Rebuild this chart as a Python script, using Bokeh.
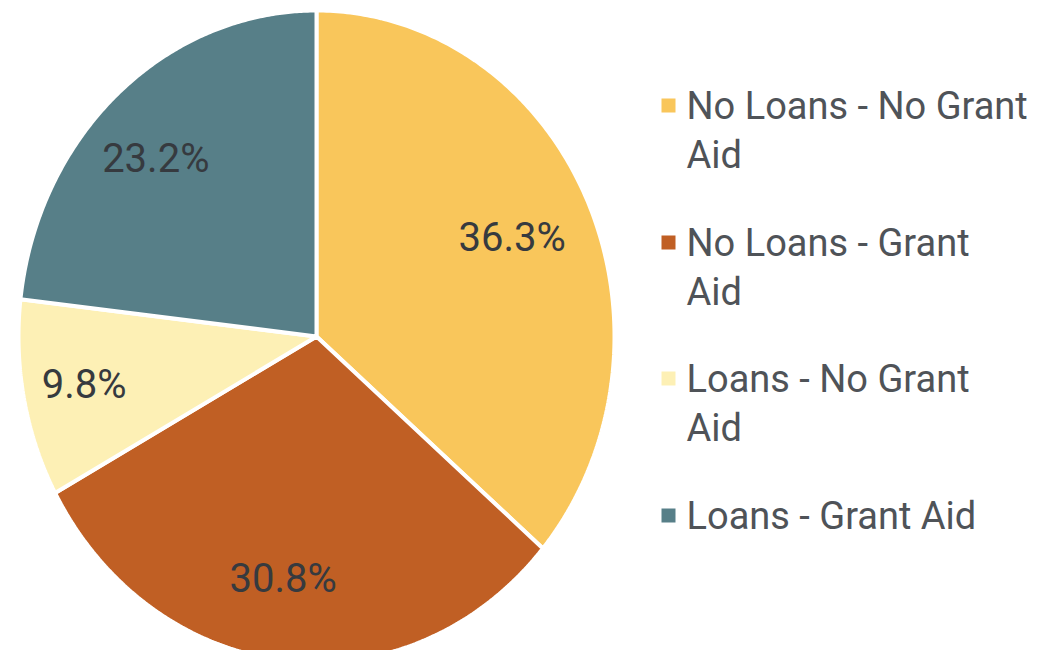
import numpy as np
from bokeh.plotting import figure
from bokeh.models import Range1d
from bokeh.core.properties import value
from bokeh.embed import file_html
from bokeh.resources import INLINE

# ---- data ----
categories = ["No Loans - No Grant Aid", "No Loans - Grant Aid",
              "Loans - No Grant Aid", "Loans - Grant Aid"]
shares = [36.3, 30.8, 9.8, 23.2]
pct_labels = ["36.3%", "30.8%", "9.8%", "23.2%"]
legend_lines = [["No Loans - No Grant", "Aid"],
                ["No Loans - Grant", "Aid"],
                ["Loans - No Grant", "Aid"],
                ["Loans - Grant Aid"]]
colors = ["#F9C65B", "#C05F24", "#FDF0B5", "#577F88"]

# ---- layout (page pixels) ----
W, H = 1039, 650
cx, cy = 316, 336
rx, ry = 298, 326

p = figure(width=W, height=H, output_backend="svg", toolbar_location=None,
           x_range=Range1d(0, W), y_range=Range1d(H, 0),
           min_border=0, outline_line_color=None, background_fill_color="white")
p.axis.visible = False
p.grid.visible = False

vals = np.array(shares, dtype=float)
frac = vals / vals.sum()
cum = np.concatenate([[0], np.cumsum(frac)])
xs, ys, lx, ly = [], [], [], []
for i in range(len(vals)):
    # clockwise from top
    a0 = np.pi / 2 - 2 * np.pi * cum[i]
    a1 = np.pi / 2 - 2 * np.pi * cum[i + 1]
    t = np.linspace(a0, a1, 200)
    xs.append([cx] + list(cx + rx * np.cos(t)))
    ys.append([cy] + list(cy - ry * np.sin(t)))
    am = (a0 + a1) / 2
    lx.append(cx - 10 + 0.76 * rx * np.cos(am))
    ly.append(cy + 2 - 0.74 * ry * np.sin(am))

p.patches(xs=xs, ys=ys, fill_color=colors, line_color="white", line_width=4)

p.text(x=lx, y=ly, text=pct_labels, text_align="center", text_baseline="middle",
       text_font=value("Roboto"), text_font_size="40px", text_color="#363a3f")

# ---- legend ----
item_y = [105, 242, 378, 515]
line_gap = 49
sq_x = 668
tx = 686
p.scatter(x=[sq_x] * 4, y=item_y, marker="square", size=14,
          fill_color=colors, line_color=None)
txt_x, txt_y, txt = [], [], []
for yy, lines in zip(item_y, legend_lines):
    for j, ln in enumerate(lines):
        txt_x.append(tx)
        txt_y.append(yy + j * line_gap)
        txt.append(ln)
p.text(x=txt_x, y=txt_y, text=txt, text_align="left", text_baseline="middle",
       text_font=value("Roboto"), text_font_size="38px", text_color="#4f5358")

open("out.html", "w").write(file_html(p, INLINE))
